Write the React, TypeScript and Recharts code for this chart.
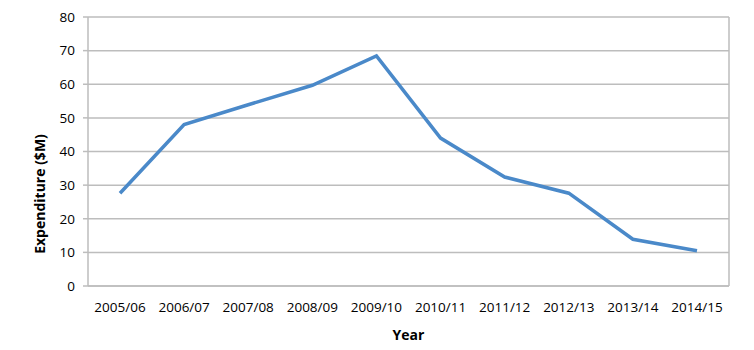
import { LineChart, Line, XAxis, YAxis, CartesianGrid } from "recharts";

const years = [
  "2005/06", "2006/07", "2007/08", "2008/09", "2009/10",
  "2010/11", "2011/12", "2012/13", "2013/14", "2014/15",
];
const expenditure = [27.6, 48.0, 53.9, 59.7, 68.4, 44.0, 32.4, 27.6, 13.9, 10.5];
const yTicks = [0, 10, 20, 30, 40, 50, 60, 70, 80];

const data = years.map((year, i) => ({ year, value: expenditure[i] }));

const font = "'Open Sans', sans-serif";
const gridColor = "#bdbdbd";

export default function App() {
  return (
    <div style={{ position: "absolute", left: 0, top: 0, background: "#fff" }}>
      <LineChart
        width={754}
        height={350}
        data={data}
        margin={{ top: 17, right: 24, left: 0, bottom: 0 }}
      >
        <CartesianGrid vertical={false} stroke={gridColor} strokeWidth={1.5} />
        <XAxis
          dataKey="year"
          height={64}
          padding={{ left: 32, right: 32 }}
          stroke={gridColor}
          strokeWidth={1.5}
          tickLine={false}
          interval={0}
          tick={{ fontSize: 13.5, fill: "#000", fontFamily: font, dy: 8 }}
          label={{
            value: "Year",
            position: "insideBottom",
            offset: 10,
            style: { fontSize: 14, fontWeight: "bold", fill: "#000", fontFamily: font },
          }}
        />
        <YAxis
          width={88}
          domain={[0, 80]}
          ticks={yTicks}
          stroke={gridColor}
          strokeWidth={1.5}
          tickSize={5}
          tick={{ fontSize: 13.5, fill: "#000", fontFamily: font, dx: -6 }}
          label={{
            content: () => (
              <text
                x={39}
                y={194}
                transform="rotate(-90 39 194)"
                textAnchor="middle"
                dominantBaseline="central"
                style={{ fontSize: 14, fontWeight: "bold", fill: "#000", fontFamily: font }}
              >
                Expenditure ($M)
              </text>
            ),
          }}
        />
        <YAxis
          yAxisId="frame"
          orientation="right"
          width={1}
          domain={[0, 80]}
          stroke={gridColor}
          strokeWidth={1.5}
          tick={false}
          tickLine={false}
        />
        <Line
          type="linear"
          dataKey="value"
          stroke="#4a89c9"
          strokeWidth={3.5}
          dot={false}
          isAnimationActive={false}
        />
      </LineChart>
    </div>
  );
}
